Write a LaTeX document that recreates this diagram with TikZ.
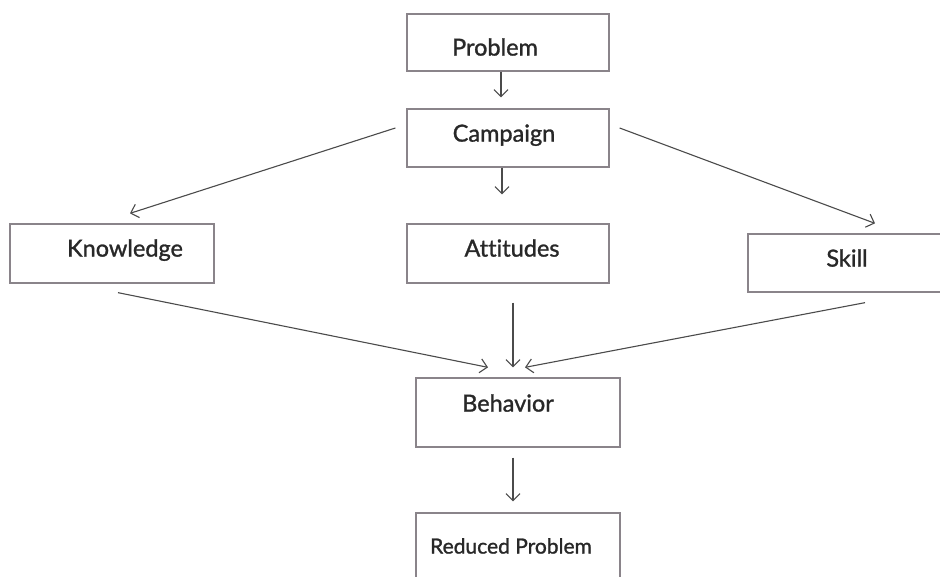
\documentclass[tikz,border=0pt]{standalone}
\usepackage{fontspec}
\setmainfont{Lato}
\newfontfamily\lblfont{Lato}[FakeBold=1.2,Ligatures=NoCommon]
\usetikzlibrary{arrows.meta,calc}
\definecolor{boxc}{RGB}{138,132,138}
\definecolor{linec}{RGB}{75,75,75}
\definecolor{txtc}{RGB}{40,40,40}
\tikzset{
  box/.style={draw=boxc, line width=1.3pt, rectangle, inner sep=0pt},
  lbl/.style={inner sep=0pt, text=txtc, font=\lblfont\fontsize{23.5}{25}\selectfont, text height=0.72em, text depth=0pt},
  lbls/.style={lbl, font=\lblfont\fontsize{21}{23}\selectfont},
  arr/.style={draw=linec, line width=1.1pt, -{Straight Barb[length=7pt,width=14pt]}}
}
\begin{document}
\begin{tikzpicture}[x=1pt,y=-1pt]
\useasboundingbox[fill=white] (0,0) rectangle (940,576);
% boxes
\node[box, minimum width=202, minimum height=57] (prob) at (508,42.5) {};
\node[box, minimum width=202, minimum height=58] (camp) at (508,138) {};
\node[box, minimum width=204, minimum height=59] (know) at (112,253.5) {};
\node[box, minimum width=202, minimum height=59] (att) at (508,253.5) {};
\node[box, minimum width=198, minimum height=58] (skill) at (847,263) {};
\node[box, minimum width=204, minimum height=69] (beh) at (518,412.5) {};
\node[box, minimum width=204, minimum height=70] (red) at (518,548) {};
% labels
\node[lbl] (probt) at (495,52) {Problem};
\node[lbl] (campt) at (504,138) {Campaign};
\node[lbl] (knowt) at (125,253) {Knowledge};
\node[lbl] (attt) at (512,253) {Attitudes};
\node[lbl] (skillt) at (847,263) {Skill};
\node[lbl] (beht) at (508,408) {Behavior};
\node[lbls] (redt) at (511,550) {Reduced Problem};
% connectors
\draw[arr] ($(prob.south)+(-7,0)$) -- ($(camp.north)+(-7,-11)$);
\draw[arr] ($(camp.south)+(-6,0)$) -- ($(att.north)+(-6,-29)$);
\draw[arr] ($(camp.west)+(-11,-10)$) -- ($(know.north)+(18,-10)$);
\draw[arr] ($(camp.east)+(10,-10)$) -- ($(skill.north)+(28,-10)$);
\draw[arr] ($(know.south)+(6,9)$) -- ($(beh.north)+(-30,-10)$);
\draw[arr] ($(att.south)+(5,19)$) -- ($(beh.north)+(-5,-10)$);
\draw[arr] ($(skill.south)+(18,10)$) -- ($(beh.north)+(7,-10)$);
\draw[arr] ($(beh.south)+(-5,10)$) -- ($(red.north)+(-5,-11)$);
\end{tikzpicture}
\end{document}
